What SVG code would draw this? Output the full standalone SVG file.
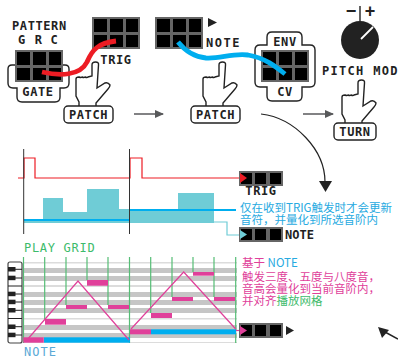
<svg xmlns="http://www.w3.org/2000/svg" width="398" height="359" viewBox="0 0 398 359">
<style>
text{font-family:"DejaVu Sans Mono","Liberation Mono",monospace}
.l{font-size:12px;font-weight:700;fill:#222;letter-spacing:.6px}
.m{text-anchor:middle}
.box{fill:#fff;stroke:#222;stroke-width:1.4}
.zh{font-family:"Noto Sans CJK SC","Noto Sans",sans-serif;font-size:11.5px}
.thin{font-size:12px;letter-spacing:.7px}
.gv{stroke:#55bd75;stroke-width:1.2;fill:none}
.band{fill:#c6c6c6}
.light{fill:#dcdcdc}
.pk{fill:#e0409a}
.key{fill:#222}
.kl{stroke:#222;stroke-width:1;fill:none}
.sign{font-family:"Liberation Sans",sans-serif;font-size:18px;font-weight:700;fill:#222;text-anchor:middle}
</style>
<defs>
<g id="g32"><rect width="48" height="32" fill="#666"/><rect x="2" y="2" width="13" height="13"/><rect x="18" y="2" width="13" height="13"/><rect x="34" y="2" width="12" height="13"/><rect x="2" y="18" width="13" height="12"/><rect x="18" y="18" width="13" height="12"/><rect x="34" y="18" width="12" height="12"/></g>
<g id="g31"><rect width="44" height="15" fill="#666"/><rect x="2" y="2" width="11" height="11"/><rect x="16" y="2" width="11" height="11"/><rect x="31" y="2" width="11" height="11"/></g>
<path id="hand" d="M79 106V102L76 96V79Q76 77 79 77q2 1 3 0q2 1 3 0q2 1 3 0l4-1V65Q92 62 95.500 62Q99 62 98.500 65L97 88L105 83Q108 82 110 85Q110 87 108 89L96 103V106" fill="#fff" stroke="#222" stroke-width="1.400"/>
<marker id="ga" markerWidth="9" markerHeight="8" refX="8" refY="4" orient="auto" markerUnits="userSpaceOnUse"><path d="M0 0L9 4L0 8Z" fill="#58595b"/></marker>
</defs>

<g id="gate">
<path class="box" d="M12 65H65Q69 65 69 69V83Q69 88 64 88H60V97Q60 102 55 102H22Q17 102 17 97V88H13Q8 88 8 83V69Q8 65 12 65Z"/>
<use href="#g32" x="15" y="50"/>
<text class="l" x="12" y="30">PATTERN</text>
<text class="l m" x="22" y="43.700">G</text><text class="l m" x="38.700" y="43.700">R</text><text class="l m" x="54.500" y="43.700">C</text>
<text class="l m" x="38" y="96">GATE</text>
</g>
<g id="trig"><use href="#g32" x="92" y="17"/><text class="l m" x="116" y="63.700">TRIG</text></g>
<g id="note"><use href="#g32" x="155" y="17"/><path d="M208 18L217 22.500L208 27Z" fill="#222"/><text class="l" x="206" y="46.700" style="letter-spacing:1.500px">NOTE</text></g>
<g id="env-cv">
<path class="box" d="M272 32H297Q302 32 302 37V45H310Q315 45 315 50V82Q315 87 310 87H302V96Q302 101 297 101H272Q267 101 267 96V87H260Q255 87 255 82V50Q255 45 260 45H267V37Q267 32 272 32Z"/>
<use href="#g32" x="261" y="50"/>
<text class="l m" x="285" y="45.700">ENV</text>
<text class="l m" x="285" y="96">CV</text>
</g>
<g id="patch1"><use href="#hand"/><rect class="box" x="64" y="106" width="49" height="17" rx="4"/><text class="l m" x="88.500" y="118.700">PATCH</text></g>
<g id="patch2"><use href="#hand" x="127"/><rect class="box" x="191" y="106" width="49" height="17" rx="4"/><text class="l m" x="215.500" y="118.700">PATCH</text></g>
<g id="knob">
<text class="sign" x="351" y="17">−</text>
<text class="sign" x="370" y="17">+</text>
<path d="M360 6V21" stroke="#222" stroke-width="1.400"/>
<circle cx="360" cy="40" r="19" fill="#222"/>
<path d="M361 39L373 27" stroke="#fff" stroke-width="1.800"/>
<text class="l" x="322" y="75" style="letter-spacing:1.300px">PITCH MOD</text>
</g>
<g id="turn"><use href="#hand" x="266" y="18"/><rect class="box" x="334" y="123" width="42" height="17" rx="4"/><text class="l m" x="355" y="136">TURN</text></g>

<g id="connectors" fill="none">
<path d="M42 72C60 76 80 76 87 62C92 50 98 43 116 41" stroke="#ed1c24" stroke-width="4.800"/>
<path d="M178 42C186 52 196 57 206 58C220 59 232 53 248 55C265 58 275 66 285 74" stroke="#00aeef" stroke-width="4.800"/>
<path d="M134 114H163" stroke="#58595b" stroke-width="1.500" marker-end="url(#ga)"/>
<path d="M303 114H333" stroke="#58595b" stroke-width="1.500" marker-end="url(#ga)"/>
<path d="M261 114C295 118 325 150 325 182" stroke="#222" stroke-width="1.200"/>
<path d="M319 181H332L325.500 192Z" fill="#222"/>
<path d="M385 332L398 339" stroke="#222" stroke-width="1.500"/>
<path d="M378 327L389 330L382 338Z" fill="#222"/>
</g>

<g id="chart">
<path d="M24 219H43V198H63V212H87V189H119V209H178V193H214V223H24Z" fill="#6fccd6"/>
<path d="M214 222H227V235H241" stroke="#6fccd6" stroke-width="1.200" fill="none"/>
<path d="M18 178H24V158H35V178H130V158H142V178H241" stroke="#ed1c24" stroke-width="1.200" fill="none"/>
<path d="M24 220H130" stroke="#00aeef" stroke-width="2"/>
<path d="M130 210H236" stroke="#00aeef" stroke-width="2"/>
<path d="M23.700 149V234M129.500 149V234" stroke="#333" stroke-width="1"/>
</g>
<g id="trig-out"><use href="#g31" x="239" y="171"/><path d="M240 173L247 178L240 183Z" fill="#ed1c24"/><text class="l m" x="261" y="195">TRIG</text></g>
<g id="note-out"><use href="#g31" x="239" y="227"/><path d="M240 230L247 234.500L240 239Z" fill="#6fccd6"/><text class="l" x="285" y="239" style="letter-spacing:0">NOTE</text></g>
<text class="zh" x="240" y="212" fill="#27aae1">仅在收到TRIG触发时才会更新</text>
<text class="zh" x="240" y="223.500" fill="#27aae1">音符，并量化到所选音阶内</text>

<text class="thin" x="24" y="252" fill="#3dbb6b">PLAY GRID</text>
<g id="piano-roll">
<rect class="light" x="24" y="262" width="213" height="1.500"/>
<rect class="band" x="24" y="268" width="213" height="5"/>
<rect class="band" x="24" y="276" width="213" height="5"/>
<rect class="light" x="24" y="285" width="213" height="2"/>
<rect class="band" x="24" y="292" width="213" height="5"/>
<rect class="band" x="24" y="300" width="213" height="5"/>
<rect class="band" x="24" y="308" width="213" height="5"/>
<rect class="light" x="24" y="318" width="213" height="1.500"/>
<rect class="band" x="24" y="325" width="213" height="5"/>
<rect class="band" x="24" y="333" width="213" height="5"/>
<rect class="light" x="24" y="342" width="213" height="1"/>
<path class="gv" d="M23.500 257V343M44.700 257V319M66 257V305M87 257V280M108 257V305M129.500 257V343M150.700 257V313M172 257V297M193 257V272M214 257V297M235.700 257V343"/>
<rect x="44" y="337.300" width="86" height="5.400" fill="#00aeef"/>
<rect x="151" y="329.300" width="85" height="5" fill="#00aeef"/>
<g class="pk">
<rect x="23.300" y="337.300" width="20.500" height="5.400"/>
<rect x="45" y="319" width="21" height="5.700"/>
<rect x="66" y="305" width="21" height="4"/>
<rect x="87" y="280" width="21" height="5.700"/>
<rect x="108" y="305" width="21" height="4"/>
<rect x="130" y="329.300" width="21" height="5"/>
<rect x="151" y="313" width="21" height="5"/>
<rect x="172" y="297" width="21" height="4"/>
<rect x="193" y="272" width="21" height="3.700"/>
<rect x="214" y="297" width="21" height="4"/>
</g>
<path d="M27 340L78 281L129 340M131 329L183.700 272L235.700 329" fill="none" stroke="#e0409a" stroke-width="1.200"/>
</g>
<g id="piano">
<rect x="8" y="262" width="14" height="81" rx="2" fill="#fff" stroke="#444" stroke-width="1.200"/>
<path class="kl" d="M8 269.300H22M8 278H22M8 286H22M8 294H22M8 302H22M8 310.300H22M8 318.500H22M8 326.700H22M8 335H22"/>
<rect class="key" x="8" y="267" width="7.500" height="4.500"/><rect class="key" x="8" y="275.700" width="7.500" height="4.500"/><rect class="key" x="8" y="291.700" width="7.500" height="4.500"/><rect class="key" x="8" y="299.700" width="7.500" height="4.500"/><rect class="key" x="8" y="308" width="7.500" height="4.500"/><rect class="key" x="8" y="324.500" width="7.500" height="4.500"/><rect class="key" x="8" y="332.700" width="7.500" height="4.500"/>
</g>
<g id="out"><path d="M236 330.500H241" stroke="#e0409a" stroke-width="1.200"/><use href="#g31" x="239" y="323"/><path d="M240 326L247 330.500L240 335Z" fill="#e0409a"/><path d="M286 326L294 330.500L286 335Z" fill="#222"/></g>
<text class="zh" x="242" y="267" fill="#e0409a">基于 <tspan fill="#27aae1">NOTE</tspan></text>
<text class="zh" x="242" y="281" fill="#e0409a">触发三度、五度与八度音，</text>
<text class="zh" x="242" y="293" fill="#e0409a">音高会量化到当前音阶内，</text>
<text class="zh" x="242" y="305" fill="#e0409a">并对齐<tspan fill="#3dbb6b">播放网格</tspan></text>
<text class="thin" x="24" y="356" fill="#5aa9d6" style="letter-spacing:1px">NOTE</text>
</svg>
